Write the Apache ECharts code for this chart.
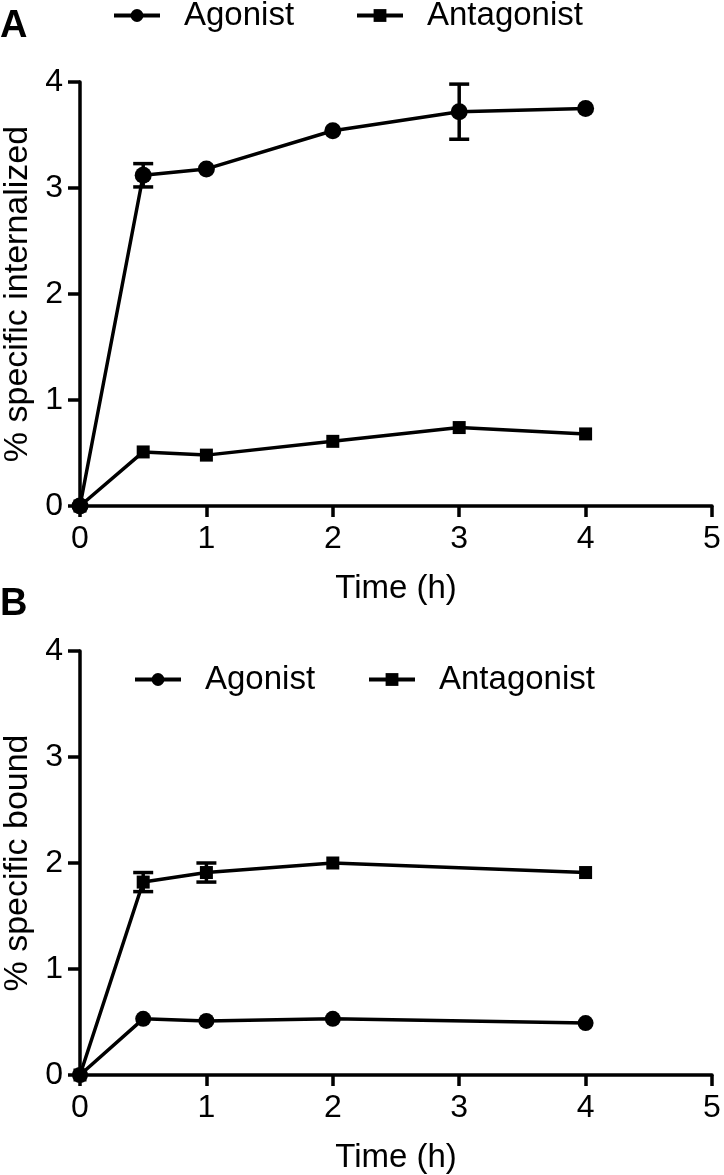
<!DOCTYPE html>
<html>
<head>
<meta charset="utf-8">
<script src="https://cdn.jsdelivr.net/npm/echarts@6/dist/echarts.min.js"></script>
<style>html,body{margin:0;padding:0;background:#fff;}#c{width:724px;height:1175px;}</style>
</head>
<body>
<div id="c"></div>
<script>
// Panel A: % specific internalized
const xA = [0, 0.5, 1, 2, 3, 4];
const agonistA = [0, 3.12, 3.18, 3.54, 3.72, 3.75];
const agonistAErr = [0, 0.11, 0, 0, 0.26, 0];
const antagonistA = [0, 0.51, 0.48, 0.61, 0.74, 0.68];
const antagonistAErr = [0, 0, 0, 0, 0, 0];
// Panel B: % specific bound
const xB = [0, 0.5, 1, 2, 4];
const agonistB = [0, 0.53, 0.51, 0.53, 0.49];
const agonistBErr = [0, 0, 0, 0, 0];
const antagonistB = [0, 1.82, 1.91, 2.0, 1.91];
const antagonistBErr = [0, 0.09, 0.09, 0, 0];
const xTicks = [0, 1, 2, 3, 4, 5];
const yTicks = [0, 1, 2, 3, 4];
const seriesNames = ['Agonist', 'Antagonist'];
const panelLetters = ['A', 'B'];
const xTitle = 'Time (h)';
const yTitles = ['% specific internalized', '% specific bound'];

const FONT = 'Liberation Sans, Arial, sans-serif';
const LW = 3.5;
const pairs = (xs, ys) => xs.map((x, i) => [x, ys[i]]);
const errData = (xs, ys, es) => xs.map((x, i) => [x, ys[i] - es[i], ys[i] + es[i]]).filter((d, i) => es[i] > 0);

function errSeries(idx, data) {
  return {
    type: 'custom', xAxisIndex: idx, yAxisIndex: idx, z: 5, silent: true,
    encode: { x: 0, y: [1, 2] },
    data: data,
    renderItem: function (params, api) {
      const x = api.value(0);
      const lo = api.coord([x, api.value(1)]);
      const hi = api.coord([x, api.value(2)]);
      const w = 10;
      const st = { stroke: '#000', lineWidth: LW };
      return { type: 'group', children: [
        { type: 'line', shape: { x1: lo[0], y1: lo[1], x2: hi[0], y2: hi[1] }, style: st },
        { type: 'line', shape: { x1: hi[0] - w, y1: hi[1], x2: hi[0] + w, y2: hi[1] }, style: st },
        { type: 'line', shape: { x1: lo[0] - w, y1: lo[1], x2: lo[0] + w, y2: lo[1] }, style: st }
      ]};
    }
  };
}

function lineSeries(idx, name, xs, ys, symbol, size) {
  return {
    type: 'line', name: name, xAxisIndex: idx, yAxisIndex: idx, z: 3,
    data: pairs(xs, ys), symbol: symbol, symbolSize: size, showSymbol: true,
    lineStyle: { color: '#000', width: LW }, itemStyle: { color: '#000' },
    emphasis: { disabled: true }, animation: false
  };
}

function xAxisDef(idx) {
  return {
    type: 'value', gridIndex: idx, min: 0, max: 5, interval: 1,
    name: xTitle, nameLocation: 'middle', nameGap: 66,
    nameTextStyle: { fontFamily: FONT, fontSize: 33, color: '#000' },
    axisLine: { show: true, onZero: false, lineStyle: { color: '#000', width: LW } },
    axisTick: { show: true, length: 11, lineStyle: { color: '#000', width: LW } },
    axisLabel: { fontFamily: FONT, fontSize: 32, color: '#000', margin: 17,
      formatter: v => xTicks.includes(v) ? String(v) : '' },
    splitLine: { show: false }
  };
}
function yAxisDef(idx) {
  return {
    type: 'value', gridIndex: idx, min: 0, max: 4, interval: 1,
    name: yTitles[idx], nameLocation: 'middle', nameGap: 42, nameRotate: 90,
    nameTextStyle: { fontFamily: FONT, fontSize: 34, color: '#000' },
    axisLine: { show: true, onZero: false, lineStyle: { color: '#000', width: LW } },
    axisTick: { show: true, length: 12, lineStyle: { color: '#000', width: LW } },
    axisLabel: { fontFamily: FONT, fontSize: 32, color: '#000', margin: 17,
      formatter: v => yTicks.includes(v) ? String(v) : '' },
    splitLine: { show: false }
  };
}
function legendDef(name, left, top) {
  return {
    data: [name], left: left, top: top, padding: 0, itemWidth: 46, itemHeight: 16,
    selectedMode: false,
    lineStyle: { width: 4 },
    textStyle: { fontFamily: FONT, fontSize: 33, color: '#000', padding: [0, 0, 0, 19] }
  };
}

const chart = echarts.init(document.getElementById('c'), null, { renderer: 'canvas' });
chart.setOption({
  backgroundColor: '#fff',
  animation: false,
  title: [
    { text: panelLetters[0], left: 0, top: 8, padding: 0, textStyle: { fontFamily: FONT, fontSize: 38, fontWeight: 'bold', color: '#000' } },
    { text: panelLetters[1], left: 0, top: 586, padding: 0, textStyle: { fontFamily: FONT, fontSize: 38, fontWeight: 'bold', color: '#000' } }
  ],
  legend: [
    legendDef(seriesNames[0], 112, -1),
    legendDef(seriesNames[1], 355, -1),
    legendDef(seriesNames[0], 133, 663),
    legendDef(seriesNames[1], 367, 663)
  ],
  grid: [
    { left: 80, right: 12, top: 82, height: 424, containLabel: false, outerBoundsMode: 'none' },
    { left: 80, right: 12, top: 651, height: 424, containLabel: false, outerBoundsMode: 'none' }
  ],
  xAxis: [xAxisDef(0), xAxisDef(1)],
  yAxis: [yAxisDef(0), yAxisDef(1)],
  series: [
    lineSeries(0, seriesNames[0], xA, agonistA, 'circle', 17),
    lineSeries(0, seriesNames[1], xA, antagonistA, 'rect', 13),
    errSeries(0, errData(xA, agonistA, agonistAErr)),
    errSeries(0, errData(xA, antagonistA, antagonistAErr)),
    lineSeries(1, seriesNames[0], xB, agonistB, 'circle', 16),
    lineSeries(1, seriesNames[1], xB, antagonistB, 'rect', 13),
    errSeries(1, errData(xB, agonistB, agonistBErr)),
    errSeries(1, errData(xB, antagonistB, antagonistBErr))
  ]
});
</script>
</body>
</html>
